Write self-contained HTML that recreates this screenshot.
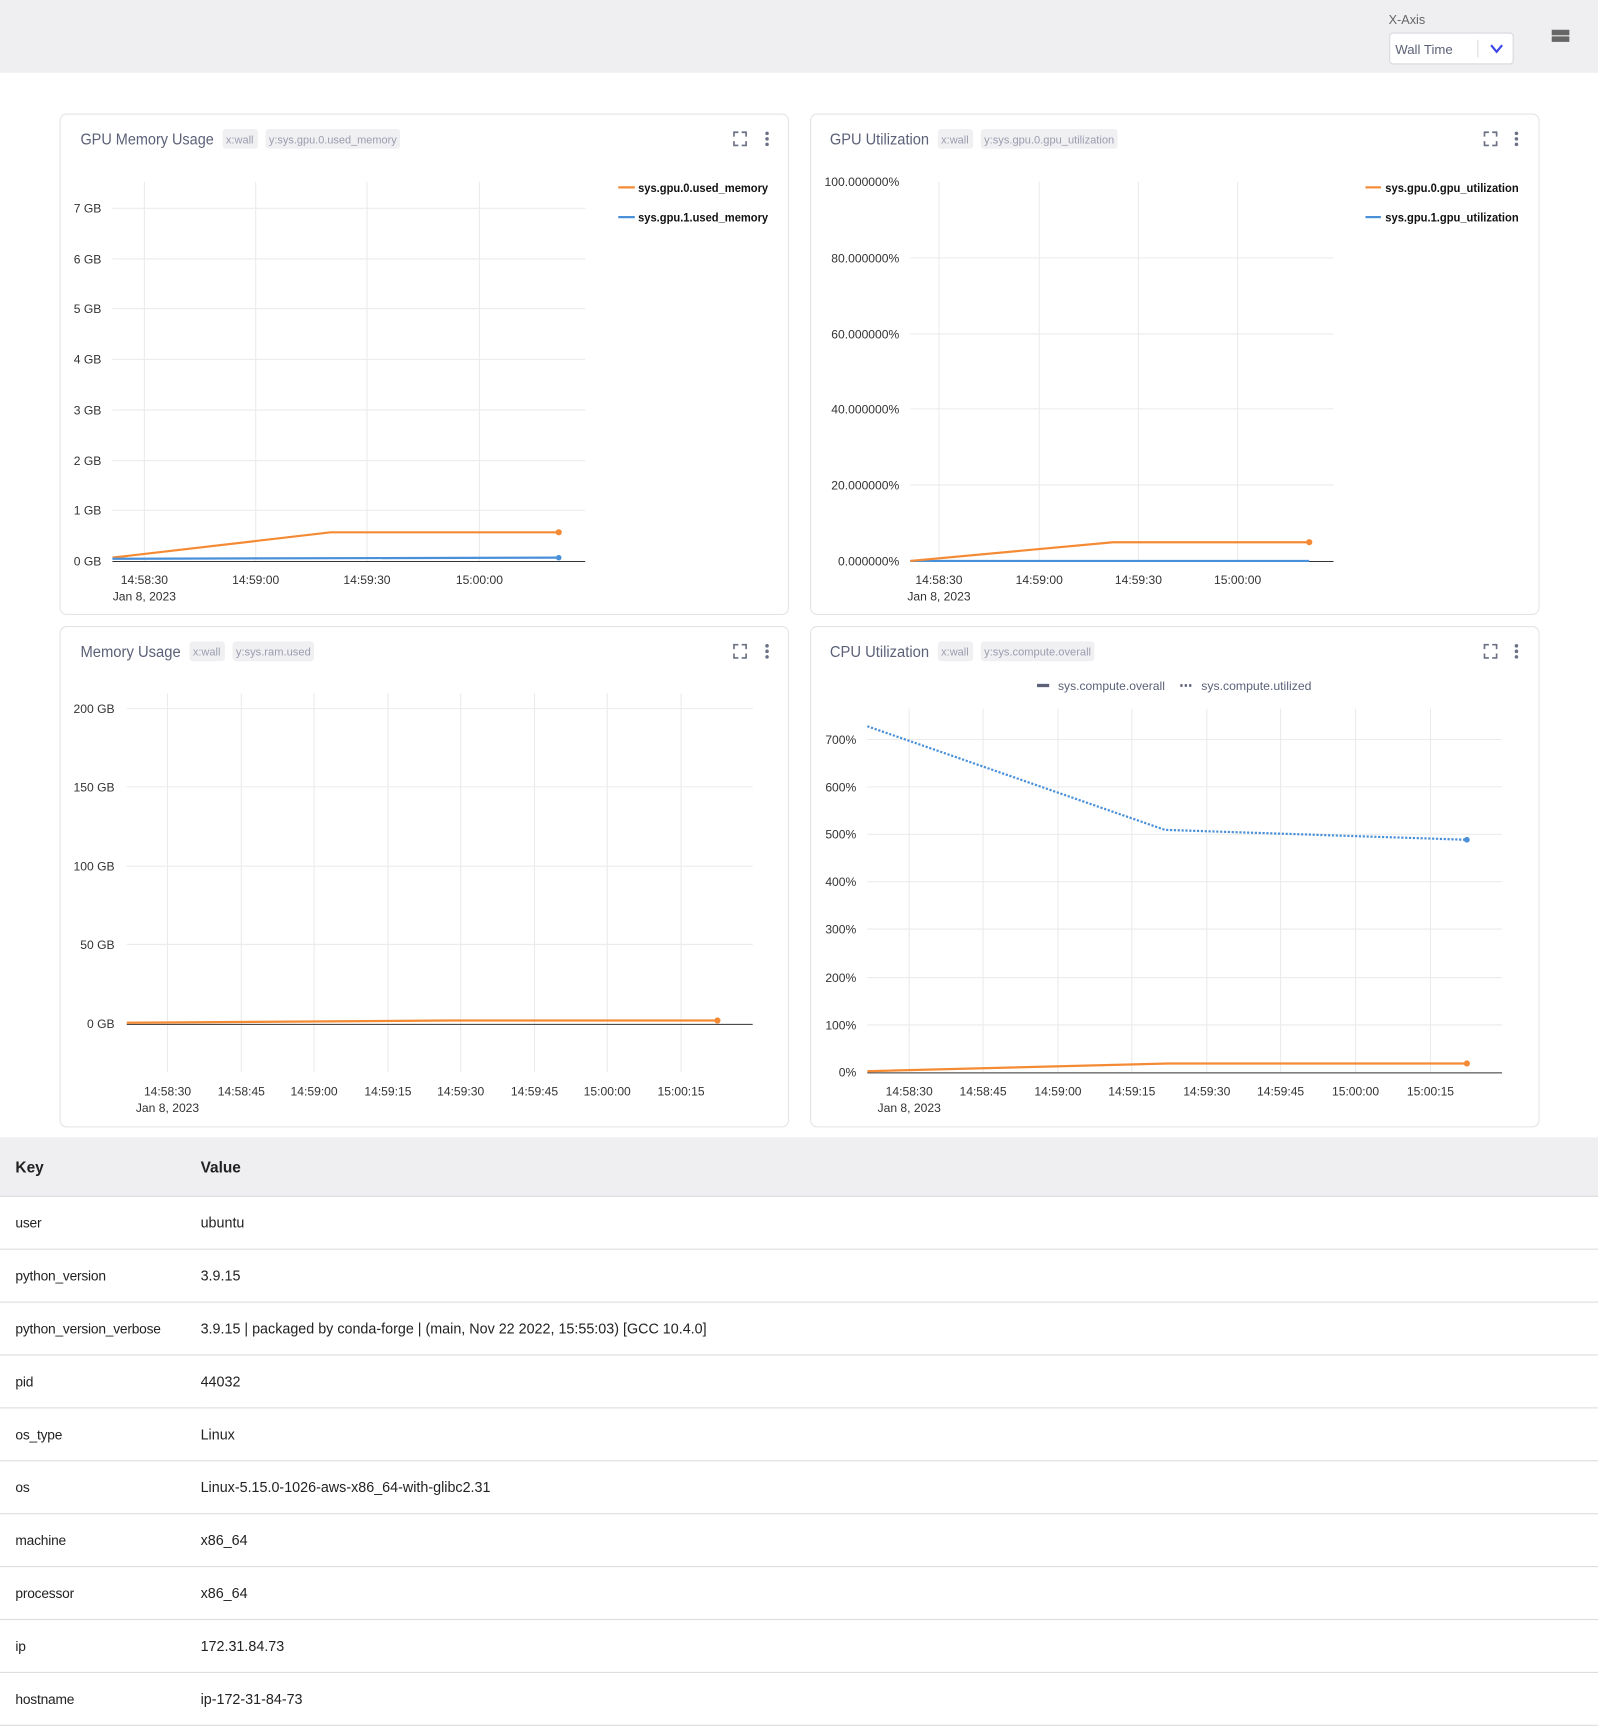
<!DOCTYPE html>
<html><head><meta charset="utf-8">
<style>
html,body{margin:0;padding:0;background:#fff;overflow:hidden;width:1598px;height:1728px}
#w{position:absolute;left:0;top:0;width:1450px;height:1568px;transform:scale(1.10207);transform-origin:0 0;font-family:"Liberation Sans",sans-serif}
svg text{font-family:"Liberation Sans",sans-serif}
table{position:absolute;left:0;top:1032px;width:1450px;border-collapse:collapse;font-size:13px;color:#222;table-layout:fixed}
th{background:#efeff1;height:53px;text-align:left;font-weight:bold;font-size:14px;border-bottom:1px solid #ddd;padding:0}
td{height:47px;border-bottom:1px solid #ddd;padding:0;white-space:nowrap}
th:first-child,td:first-child{padding-left:14px;width:168px}
td:first-child{font-size:12.5px;letter-spacing:-0.2px}
</style></head><body><div id="w">
<svg width="1450" height="1032" style="position:absolute;left:0;top:0">
<rect x="0" y="0" width="1450" height="66" fill="#efeff1"/>
<text x="1260" y="22" font-size="11.5" fill="#666">X-Axis</text>
<rect x="1261" y="30" width="112" height="28" rx="3" fill="#fff" stroke="#d8d8de"/>
<text x="1266" y="49" font-size="12" fill="#5c6178">Wall Time</text>
<line x1="1341" y1="36" x2="1341" y2="52" stroke="#ddd"/>
<polyline points="1353,41 1358,47 1363,41" fill="none" stroke="#3c47e8" stroke-width="2"/>
<rect x="1408" y="27" width="16" height="5" fill="#666"/><rect x="1408" y="33" width="16" height="5" fill="#666"/>

<g fill="#fff" stroke="#e4e4e7">
<rect x="54.5" y="103.5" width="661" height="454" rx="6"/>
<rect x="735.5" y="103.5" width="661" height="454" rx="6"/>
<rect x="54.5" y="568.5" width="661" height="454" rx="6"/>
<rect x="735.5" y="568.5" width="661" height="454" rx="6"/>
</g>
<g font-size="14" fill="#5c6178">
<text x="73" y="131" textLength="121" lengthAdjust="spacingAndGlyphs">GPU Memory Usage</text>
<text x="753" y="131" textLength="90" lengthAdjust="spacingAndGlyphs">GPU Utilization</text>
<text x="73" y="596" textLength="91" lengthAdjust="spacingAndGlyphs">Memory Usage</text>
<text x="753" y="596" textLength="90" lengthAdjust="spacingAndGlyphs">CPU Utilization</text>
</g>
<g fill="#f0f0f3">
<rect x="202" y="117" width="32" height="18" rx="3"/><rect x="241" y="117" width="122" height="18" rx="3"/>
<rect x="851" y="117" width="32" height="18" rx="3"/><rect x="890" y="117" width="124" height="18" rx="3"/>
<rect x="172" y="582" width="32" height="18" rx="3"/><rect x="211" y="582" width="74" height="18" rx="3"/>
<rect x="851" y="582" width="32" height="18" rx="3"/><rect x="890" y="582" width="103" height="18" rx="3"/>
</g>
<g font-size="10" fill="#9a9cae">
<text x="205" y="130">x:wall</text><text x="244" y="130" textLength="116" lengthAdjust="spacingAndGlyphs">y:sys.gpu.0.used_memory</text>
<text x="854" y="130">x:wall</text><text x="893" y="130" textLength="118" lengthAdjust="spacingAndGlyphs">y:sys.gpu.0.gpu_utilization</text>
<text x="175" y="595">x:wall</text><text x="214" y="595" textLength="68" lengthAdjust="spacingAndGlyphs">y:sys.ram.used</text>
<text x="854" y="595">x:wall</text><text x="893" y="595" textLength="97" lengthAdjust="spacingAndGlyphs">y:sys.compute.overall</text>
</g>
<g stroke="#6b7085" stroke-width="1.5" fill="none">
<path d="M666 124v-4h4M673 120h4v4M677 128v4h-4M670 132h-4v-4"/>
<path d="M1347 124v-4h4M1354 120h4v4M1358 128v4h-4M1351 132h-4v-4"/>
<path d="M666 589v-4h4M673 585h4v4M677 593v4h-4M670 597h-4v-4"/>
<path d="M1347 589v-4h4M1354 585h4v4M1358 593v4h-4M1351 597h-4v-4"/>
</g>
<g fill="#6b7085">
<circle cx="696" cy="121" r="1.6"/><circle cx="696" cy="126" r="1.6"/><circle cx="696" cy="131" r="1.6"/>
<circle cx="1376" cy="121" r="1.6"/><circle cx="1376" cy="126" r="1.6"/><circle cx="1376" cy="131" r="1.6"/>
<circle cx="696" cy="586" r="1.6"/><circle cx="696" cy="591" r="1.6"/><circle cx="696" cy="596" r="1.6"/>
<circle cx="1376" cy="586" r="1.6"/><circle cx="1376" cy="591" r="1.6"/><circle cx="1376" cy="596" r="1.6"/>
</g>

<!-- Chart 1 -->
<g stroke="#ebebeb" stroke-width="1">
<line x1="131" y1="165" x2="131" y2="509"/><line x1="232" y1="165" x2="232" y2="509"/><line x1="333" y1="165" x2="333" y2="509"/><line x1="435" y1="165" x2="435" y2="509"/>
<line x1="102" y1="189" x2="531" y2="189"/><line x1="102" y1="235" x2="531" y2="235"/><line x1="102" y1="280" x2="531" y2="280"/><line x1="102" y1="326" x2="531" y2="326"/><line x1="102" y1="372" x2="531" y2="372"/><line x1="102" y1="418" x2="531" y2="418"/><line x1="102" y1="463" x2="531" y2="463"/>
</g>
<line x1="102" y1="509.5" x2="531" y2="509.5" stroke="#333"/>
<g font-size="11" fill="#333" text-anchor="end">
<text x="92" y="193">7 GB</text><text x="92" y="239">6 GB</text><text x="92" y="284">5 GB</text><text x="92" y="330">4 GB</text><text x="92" y="376">3 GB</text><text x="92" y="422">2 GB</text><text x="92" y="467">1 GB</text><text x="92" y="513">0 GB</text>
</g>
<g font-size="11" fill="#333" text-anchor="middle">
<text x="131" y="530">14:58:30</text><text x="131" y="545">Jan 8, 2023</text><text x="232" y="530">14:59:00</text><text x="333" y="530">14:59:30</text><text x="435" y="530">15:00:00</text>
</g>
<polyline points="102,506 300,483 507,483" fill="none" stroke="#f58a35" stroke-width="2"/><circle cx="507" cy="483" r="2.8" fill="#f58a35"/>
<polyline points="102,507 507,506" fill="none" stroke="#4a90d9" stroke-width="2"/><circle cx="507" cy="506" r="2.5" fill="#4a90d9"/>
<line x1="561" y1="170" x2="576" y2="170" stroke="#f58a35" stroke-width="2"/><line x1="561" y1="197" x2="576" y2="197" stroke="#4a90d9" stroke-width="2"/>
<g font-size="11" fill="#111" font-weight="bold"><text x="579" y="174" textLength="118" lengthAdjust="spacingAndGlyphs">sys.gpu.0.used_memory</text><text x="579" y="201" textLength="118" lengthAdjust="spacingAndGlyphs">sys.gpu.1.used_memory</text></g>

<!-- Chart 2 -->
<g stroke="#ebebeb">
<line x1="852" y1="165" x2="852" y2="509"/><line x1="943" y1="165" x2="943" y2="509"/><line x1="1033" y1="165" x2="1033" y2="509"/><line x1="1123" y1="165" x2="1123" y2="509"/>
<line x1="826" y1="234" x2="1210" y2="234"/><line x1="826" y1="303" x2="1210" y2="303"/><line x1="826" y1="371" x2="1210" y2="371"/><line x1="826" y1="440" x2="1210" y2="440"/>
</g>
<line x1="826" y1="509.5" x2="1210" y2="509.5" stroke="#333"/>
<g font-size="11" fill="#333" text-anchor="end">
<text x="816" y="169">100.000000%</text><text x="816" y="238">80.000000%</text><text x="816" y="307">60.000000%</text><text x="816" y="375">40.000000%</text><text x="816" y="444">20.000000%</text><text x="816" y="513">0.000000%</text>
</g>
<g font-size="11" fill="#333" text-anchor="middle">
<text x="852" y="530">14:58:30</text><text x="852" y="545">Jan 8, 2023</text><text x="943" y="530">14:59:00</text><text x="1033" y="530">14:59:30</text><text x="1123" y="530">15:00:00</text>
</g>
<polyline points="826,509 1188,509" fill="none" stroke="#4a90d9" stroke-width="2"/>
<polyline points="826,509 1010,492 1188,492" fill="none" stroke="#f58a35" stroke-width="2"/><circle cx="1188" cy="492" r="2.8" fill="#f58a35"/>
<line x1="1239" y1="170" x2="1253" y2="170" stroke="#f58a35" stroke-width="2"/><line x1="1239" y1="197" x2="1253" y2="197" stroke="#4a90d9" stroke-width="2"/>
<g font-size="11" fill="#111" font-weight="bold"><text x="1257" y="174" textLength="121" lengthAdjust="spacingAndGlyphs">sys.gpu.0.gpu_utilization</text><text x="1257" y="201" textLength="121" lengthAdjust="spacingAndGlyphs">sys.gpu.1.gpu_utilization</text></g>

<!-- Chart 3 -->
<g stroke="#ebebeb">
<line x1="152" y1="629" x2="152" y2="973"/><line x1="219" y1="629" x2="219" y2="973"/><line x1="285" y1="629" x2="285" y2="973"/><line x1="352" y1="629" x2="352" y2="973"/><line x1="418" y1="629" x2="418" y2="973"/><line x1="485" y1="629" x2="485" y2="973"/><line x1="551" y1="629" x2="551" y2="973"/><line x1="618" y1="629" x2="618" y2="973"/>
<line x1="115" y1="643" x2="683" y2="643"/><line x1="115" y1="714" x2="683" y2="714"/><line x1="115" y1="786" x2="683" y2="786"/><line x1="115" y1="857" x2="683" y2="857"/>
</g>
<line x1="115" y1="929.5" x2="683" y2="929.5" stroke="#333"/>
<g font-size="11" fill="#333" text-anchor="end">
<text x="104" y="647">200 GB</text><text x="104" y="718">150 GB</text><text x="104" y="790">100 GB</text><text x="104" y="861">50 GB</text><text x="104" y="933">0 GB</text>
</g>
<g font-size="11" fill="#333" text-anchor="middle">
<text x="152" y="994">14:58:30</text><text x="152" y="1009">Jan 8, 2023</text><text x="219" y="994">14:58:45</text><text x="285" y="994">14:59:00</text><text x="352" y="994">14:59:15</text><text x="418" y="994">14:59:30</text><text x="485" y="994">14:59:45</text><text x="551" y="994">15:00:00</text><text x="618" y="994">15:00:15</text>
</g>
<polyline points="115,928 408,926 651,926" fill="none" stroke="#f58a35" stroke-width="2"/><circle cx="651" cy="926" r="2.8" fill="#f58a35"/>

<!-- Chart 4 -->
<line x1="941" y1="622" x2="952" y2="622" stroke="#5c6178" stroke-width="3"/>
<line x1="1071" y1="622" x2="1082" y2="622" stroke="#5c6178" stroke-width="2.5" stroke-dasharray="2,2"/>
<g font-size="11" fill="#5c6178"><text x="960" y="626" textLength="97" lengthAdjust="spacingAndGlyphs">sys.compute.overall</text><text x="1090" y="626" textLength="100" lengthAdjust="spacingAndGlyphs">sys.compute.utilized</text></g>
<g stroke="#ebebeb">
<line x1="825" y1="643" x2="825" y2="973"/><line x1="892" y1="643" x2="892" y2="973"/><line x1="960" y1="643" x2="960" y2="973"/><line x1="1027" y1="643" x2="1027" y2="973"/><line x1="1095" y1="643" x2="1095" y2="973"/><line x1="1162" y1="643" x2="1162" y2="973"/><line x1="1230" y1="643" x2="1230" y2="973"/><line x1="1298" y1="643" x2="1298" y2="973"/>
<line x1="787" y1="671" x2="1363" y2="671"/><line x1="787" y1="714" x2="1363" y2="714"/><line x1="787" y1="757" x2="1363" y2="757"/><line x1="787" y1="800" x2="1363" y2="800"/><line x1="787" y1="843" x2="1363" y2="843"/><line x1="787" y1="887" x2="1363" y2="887"/><line x1="787" y1="930" x2="1363" y2="930"/>
</g>
<line x1="787" y1="973.5" x2="1363" y2="973.5" stroke="#333"/>
<g font-size="11" fill="#333" text-anchor="end">
<text x="777" y="675">700%</text><text x="777" y="718">600%</text><text x="777" y="761">500%</text><text x="777" y="804">400%</text><text x="777" y="847">300%</text><text x="777" y="891">200%</text><text x="777" y="934">100%</text><text x="777" y="977">0%</text>
</g>
<g font-size="11" fill="#333" text-anchor="middle">
<text x="825" y="994">14:58:30</text><text x="825" y="1009">Jan 8, 2023</text><text x="892" y="994">14:58:45</text><text x="960" y="994">14:59:00</text><text x="1027" y="994">14:59:15</text><text x="1095" y="994">14:59:30</text><text x="1162" y="994">14:59:45</text><text x="1230" y="994">15:00:00</text><text x="1298" y="994">15:00:15</text>
</g>
<polyline points="787,659 1057,753 1331,762" fill="none" stroke="#4a90d9" stroke-width="2" stroke-dasharray="2,1.5"/><circle cx="1331" cy="762" r="2.6" fill="#4a90d9"/>
<polyline points="787,972 1060,965 1331,965" fill="none" stroke="#f58a35" stroke-width="2"/><circle cx="1331" cy="965" r="2.8" fill="#f58a35"/>
</svg>

<table>
<tr><th>Key</th><th>Value</th></tr>
<tr><td>user</td><td>ubuntu</td></tr>
<tr><td>python_version</td><td>3.9.15</td></tr>
<tr><td>python_version_verbose</td><td>3.9.15 | packaged by conda-forge | (main, Nov 22 2022, 15:55:03) [GCC 10.4.0]</td></tr>
<tr><td>pid</td><td>44032</td></tr>
<tr><td>os_type</td><td>Linux</td></tr>
<tr><td>os</td><td>Linux-5.15.0-1026-aws-x86_64-with-glibc2.31</td></tr>
<tr><td>machine</td><td>x86_64</td></tr>
<tr><td>processor</td><td>x86_64</td></tr>
<tr><td>ip</td><td>172.31.84.73</td></tr>
<tr><td>hostname</td><td>ip-172-31-84-73</td></tr>
</table>
</div></body></html>
